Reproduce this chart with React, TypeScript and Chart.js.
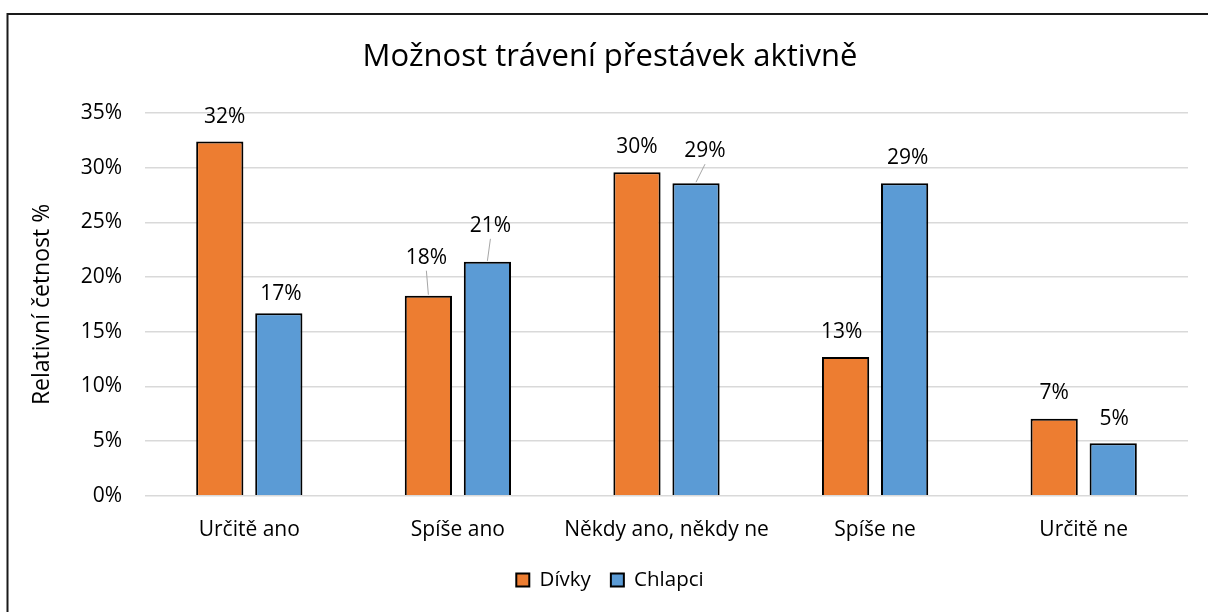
import { useEffect, useRef } from "react";
import { Chart, registerables } from "chart.js";

Chart.register(...registerables);

const categories = ["Určitě ano", "Spíše ano", "Někdy ano, někdy ne", "Spíše ne", "Určitě ne"];
const seriesNames = ["Dívky", "Chlapci"];
const divky = [32.4, 18.3, 29.6, 12.7, 7.05];
const chlapci = [16.7, 21.4, 28.6, 28.6, 4.8];
const yTicks = [0, 5, 10, 15, 20, 25, 30, 35];

// label offsets (dx, extra lift) for the value labels
const labelShiftDivky = [[5, 0], [-2, 13], [0, 0], [-4, 0], [0, 1]];
const labelShiftChlapci = [[2, -6], [3, 11], [9, 7], [3, 0], [1, -1]];

const FONT = "'Open Sans', sans-serif";
const ORANGE = "#ED7D31";
const BLUE = "#5B9BD5";

const framePlugin = {
  id: "frame",
  beforeDraw(chart: any) {
    const ctx = chart.ctx;
    ctx.save();
    ctx.fillStyle = "#fff";
    ctx.fillRect(0, 0, chart.width, chart.height);
    ctx.restore();
  },
  afterDraw(chart: any) {
    const ctx = chart.ctx;
    ctx.save();
    ctx.strokeStyle = "#1a1a1a";
    ctx.lineWidth = 2;
    ctx.beginPath();
    ctx.moveTo(7.5, chart.height);
    ctx.lineTo(7.5, 14);
    ctx.lineTo(chart.width, 14);
    ctx.stroke();
    ctx.restore();
  },
};

const valueLabelPlugin = {
  id: "valueLabels",
  afterDatasetsDraw(chart: any) {
    const ctx = chart.ctx;
    ctx.save();
    ctx.font = `21px ${FONT}`;
    ctx.textAlign = "center";
    ctx.textBaseline = "middle";
    chart.data.datasets.forEach((ds: any, di: number) => {
      const meta = chart.getDatasetMeta(di);
      const shifts = di === 0 ? labelShiftDivky : labelShiftChlapci;
      meta.data.forEach((bar: any, i: number) => {
        const v = ds.data[i];
        const [dx, dy] = shifts[i];
        const lx = bar.x + dx;
        const ly = bar.y - 25 - dy;
        if (dy > 5) {
          ctx.strokeStyle = "#A6A6A6";
          ctx.lineWidth = 1;
          ctx.beginPath();
          ctx.moveTo(lx, ly + 13);
          ctx.lineTo(bar.x, bar.y - 1);
          ctx.stroke();
        }
        ctx.fillStyle = "#000";
        ctx.fillText(Math.round(v) + "%", lx, ly);
      });
    });
    ctx.restore();
  },
};

export default function App() {
  const ref = useRef<HTMLCanvasElement>(null);

  useEffect(() => {
    if (!ref.current) return;
    const chart = new Chart(ref.current, {
      type: "bar",
      data: {
        labels: categories,
        datasets: [
          {
            label: seriesNames[0],
            data: divky,
            backgroundColor: ORANGE,
            borderColor: "#000",
            borderWidth: 2,
            categoryPercentage: 0.566,
            barPercentage: 0.8,
          },
          {
            label: seriesNames[1],
            data: chlapci,
            backgroundColor: BLUE,
            borderColor: "#000",
            borderWidth: 2,
            categoryPercentage: 0.566,
            barPercentage: 0.8,
          },
        ],
      },
      options: {
        responsive: false,
        animation: false,
        devicePixelRatio: 1,
        layout: { padding: { left: 32, right: 20, top: 0, bottom: 11.75 } },
        plugins: {
          title: {
            display: true,
            text: "Možnost trávení přestávek aktivně",
            color: "#000",
            font: { family: FONT, size: 31, weight: "normal" },
            padding: { top: 39, bottom: 37 },
          },
          legend: {
            display: true,
            position: "bottom",
            labels: {
              color: "#000",
              font: { family: FONT, size: 20.5 },
              boxWidth: 13,
              boxHeight: 13,
              padding: 20,
            },
          },
          tooltip: { enabled: false },
        },
        scales: {
          x: {
            grid: { display: false },
            border: { display: false },
            ticks: {
              color: "#000",
              font: { family: FONT, size: 21 },
              padding: 14,
              maxRotation: 0,
              minRotation: 0,
              autoSkip: false,
            },
            afterFit(scale: any) {
              scale.height = 54;
            },
          },
          y: {
            min: 0,
            max: 35,
            afterBuildTicks(scale: any) {
              scale.ticks = yTicks.map((v) => ({ value: v }));
            },
            grid: { color: "#D9D9D9", lineWidth: 1.5, drawTicks: false },
            border: { display: false },
            ticks: {
              color: "#000",
              font: { family: FONT, size: 21 },
              padding: 23,
              callback: (v: any) => v + "%",
            },
            title: {
              display: true,
              text: "Relativní četnost %",
              color: "#000",
              font: { family: FONT, size: 23 },
              padding: { top: -3.8, bottom: 0 },
            },
            afterFit(scale: any) {
              scale.width = 113;
            },
          },
        },
      },
      plugins: [framePlugin, valueLabelPlugin],
    });
    return () => chart.destroy();
  }, []);

  return (
    <div style={{ position: "absolute", left: 0, top: 0, width: 1208, height: 612 }}>
      <canvas ref={ref} width={1208} height={612} />
    </div>
  );
}
